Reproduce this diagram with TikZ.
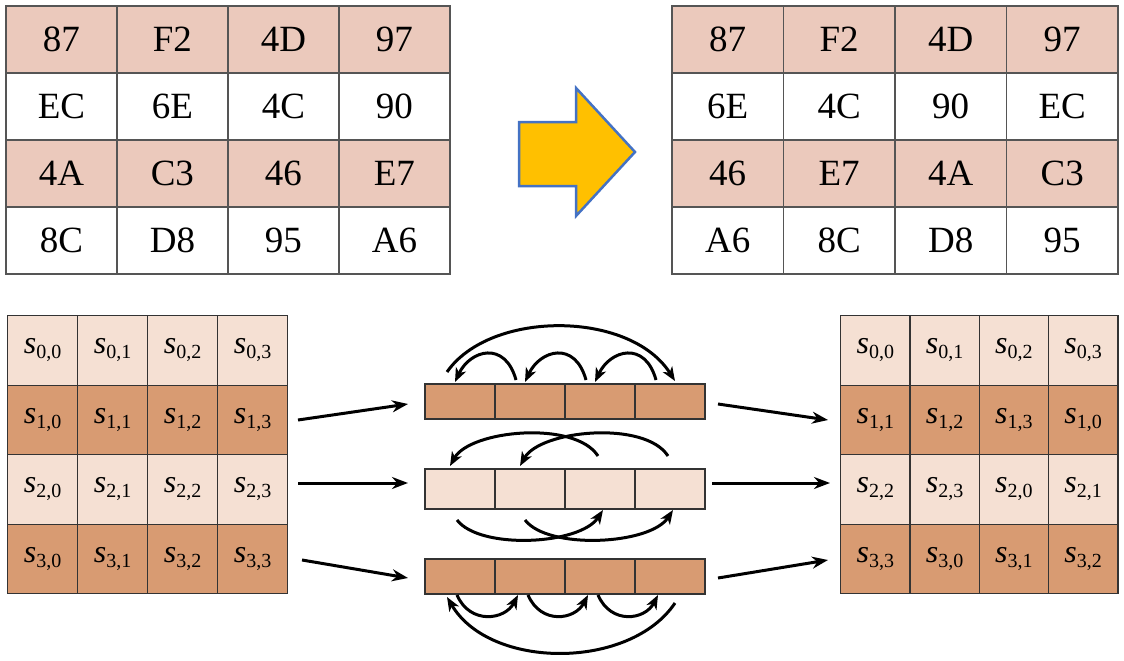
\documentclass[tikz,border=0pt]{standalone}
\usepackage{fontspec}
\setmainfont{Liberation Serif}
\usetikzlibrary{arrows.meta}
\definecolor{pinkc}{HTML}{EBC9BC}
\definecolor{lightc}{HTML}{F5E0D3}
\definecolor{darkc}{HTML}{D89B72}
\definecolor{gridc}{HTML}{555555}
\definecolor{arrfill}{HTML}{FFC000}
\definecolor{arrline}{HTML}{4472C4}
\newcommand{\sij}[2]{\textit{s}\raisebox{-5pt}{\fontsize{20}{20}\selectfont #1,#2}}
\begin{document}
\begin{tikzpicture}[x=1pt,y=-1pt,
  hx/.style={draw=gridc,line width=1.8pt,minimum width=111pt,minimum height=67pt,inner sep=0pt,anchor=north west,font=\fontsize{37}{37}\selectfont},
  sm/.style={draw=black!80,line width=1.3pt,minimum width=70pt,minimum height=69.5pt,inner sep=0pt,anchor=north west,font=\fontsize{32}{32}\selectfont},
  bc/.style={draw=black!80,line width=1.6pt,minimum width=70pt,inner sep=0pt,anchor=north west},
  ar/.style={line width=3pt,-{Stealth[length=16pt,width=12pt]}},
  cv/.style={line width=3pt,-{Stealth[length=14pt,width=11pt,inset=4pt]}}]
\useasboundingbox (0,0) rectangle (1124,661);
% top tables
\foreach \r/\a/\b/\c/\d in {0/87/F2/4D/97,1/EC/6E/4C/90,2/4A/C3/46/E7,3/8C/D8/95/A6}{
  \pgfmathsetmacro\yy{5+67*\r}
  \ifodd\r \def\fc{white}\else\def\fc{pinkc}\fi
  \foreach \t [count=\i from 0] in {\a,\b,\c,\d}
    \node[hx,fill=\fc] (L\r\i) at ({5+111*\i},\yy) {\t};
}
\foreach \r/\a/\b/\c/\d in {0/87/F2/4D/97,1/6E/4C/90/EC,2/46/E7/4A/C3,3/A6/8C/D8/95}{
  \pgfmathsetmacro\yy{5+67*\r}
  \ifodd\r \def\fc{white}\else\def\fc{pinkc}\fi
  \foreach \t [count=\i from 0] in {\a,\b,\c,\d}
    \node[hx,fill=\fc,minimum width=111.5pt] (R\r\i) at ({671+111.5*\i},\yy) {\t};
}
% block arrow
\draw[arrline,line width=2.5pt,fill=arrfill] (519,122) -- (576,122) -- (576,88) -- (635,152) -- (576,216) -- (576,186) -- (519,186) -- cycle;
% bottom matrices
\foreach \r in {0,1,2,3}{
  \pgfmathsetmacro\yy{315+69.5*\r}
  \ifodd\r \def\fc{darkc}\else\def\fc{lightc}\fi
  \foreach \i in {0,1,2,3}{
    \node[sm,fill=\fc] (A\r\i) at ({7+70*\i},\yy) {\sij{\r}{\i}};
    \pgfmathtruncatemacro\j{mod(\i+\r,4)}
    \node[sm,fill=\fc,minimum width=69.3pt] (B\r\i) at ({840+69.3*\i},\yy) {\sij{\r}{\j}};
  }
}
% bars
\foreach \k/\y/\h/\fc in {1/383/35/darkc,2/468/40/lightc,3/558/35/darkc}{
  \foreach \i in {0,1,2,3}
    \node[bc,fill=\fc,minimum height=\h pt] (C\k\i) at ({424+70*\i},\y) {};
}
\coordinate (p1) at (298,420); \coordinate (q1) at (408,404);
\coordinate (p2) at (298,483); \coordinate (q2) at (408,483);
\coordinate (p3) at (302,560); \coordinate (q3) at (408,578);
\coordinate (u1) at (718,404); \coordinate (v1) at (828,420);
\coordinate (u2) at (712,483); \coordinate (v2) at (830,483);
\coordinate (u3) at (718,578); \coordinate (v3) at (828,560);
\foreach \k in {1,2,3}{\draw[ar] (p\k) -- (q\k); \draw[ar] (u\k) -- (v\k);}
% row 1 curves
\draw[cv] (516,380) .. controls (505,340) and (470,350) .. (455,382);
\draw[cv] (586,380) .. controls (575,340) and (540,350) .. (525,382);
\draw[cv] (656,380) .. controls (645,340) and (610,350) .. (595,382);
\draw[cv] (447,372) .. controls (490,310) and (630,310) .. (675,381);
% row 2 curves
\draw[cv] (598,456) .. controls (575,420) and (470,430) .. (450,466);
\draw[cv] (668,456) .. controls (645,420) and (540,430) .. (520,466);
\draw[cv] (457,520) .. controls (480,550) and (580,545) .. (603,510);
\draw[cv] (525,520) .. controls (548,550) and (650,545) .. (673,510);
% row 3 curves
\draw[cv] (457,595) .. controls (470,625) and (505,620) .. (518,595);
\draw[cv] (528,595) .. controls (541,625) and (575,620) .. (588,595);
\draw[cv] (598,595) .. controls (611,625) and (645,620) .. (658,595);
\draw[cv] (675,603) .. controls (630,670) and (490,670) .. (447,597);
\end{tikzpicture}
\end{document}
